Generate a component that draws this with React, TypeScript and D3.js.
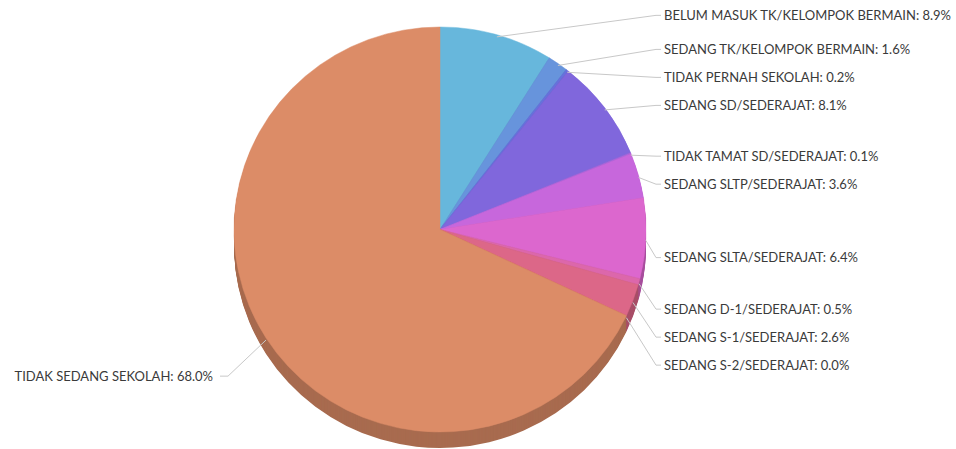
import React from "react";
import * as d3 from "d3";

const categories = [
  "BELUM MASUK TK/KELOMPOK BERMAIN",
  "SEDANG TK/KELOMPOK BERMAIN",
  "TIDAK PERNAH SEKOLAH",
  "SEDANG SD/SEDERAJAT",
  "TIDAK TAMAT SD/SEDERAJAT",
  "SEDANG SLTP/SEDERAJAT",
  "SEDANG SLTA/SEDERAJAT",
  "SEDANG D-1/SEDERAJAT",
  "SEDANG S-1/SEDERAJAT",
  "SEDANG S-2/SEDERAJAT",
  "TIDAK SEDANG SEKOLAH",
];
const values = [8.9, 1.6, 0.2, 8.1, 0.1, 3.6, 6.4, 0.5, 2.6, 0.0, 68.0];
const colors = [
  "#67b7dc", "#6794dc", "#6771dc", "#8067dc", "#a367dc", "#c767dc",
  "#dc67ce", "#dc67ab", "#dc6788", "#dc6967", "#dc8c67",
];

const W = 956, H = 449;
const cx = 440, cy = 229.5, rx = 206, ry = 202.5, depth = 16;
const labelCy = cy + 17.5, labelR = 241, labelGap = 28;
const rightX = 664, leftX = 213;

export default function App() {
  const pie = d3.pie<number>().sort(null).value((d) => d)(values);
  const arc = d3.arc<d3.PieArcDatum<number>>().innerRadius(0).outerRadius(ry);
  const sx = rx / ry;

  type L = { i: number; mid: number; y: number; right: boolean; ex: number; ey: number };
  const labels: L[] = pie.map((p, i) => {
    const mid = (p.startAngle + p.endAngle) / 2;
    return {
      i,
      mid,
      y: labelCy - labelR * Math.cos(mid),
      right: Math.sin(mid) >= 0,
      ex: cx + rx * Math.sin(mid),
      ey: cy - ry * Math.cos(mid) + 2,
    };
  });
  [true, false].forEach((side) => {
    const g = labels.filter((l) => l.right === side).sort((a, b) => a.y - b.y);
    for (let k = 1; k < g.length; k++) {
      if (g[k].y < g[k - 1].y + labelGap) g[k].y = g[k - 1].y + labelGap;
    }
  });

  const layers = d3.range(depth, 0, -1);

  return (
    <svg width={W} height={H} style={{ position: "absolute", left: 0, top: 0 }}>
      <g transform={`translate(${cx},${cy})`}>
        {layers.map((d) => (
          <g key={d} transform={`translate(0,${d}) scale(${sx},1)`}>
            {pie.map((p, i) => (
              <path
                key={i}
                d={arc(p) || ""}
                fill={d3.color(colors[i])!.darker(0.75).formatHex()}
              />
            ))}
          </g>
        ))}
        <g transform={`scale(${sx},1)`}>
          {pie.map((p, i) => (
            <path
              key={i}
              d={arc(p) || ""}
              fill={colors[i]}
              stroke={colors[i]}
              strokeWidth={0.5}
            />
          ))}
        </g>
      </g>
      {labels.map((l) => {
        const tx = l.right ? rightX : leftX;
        const x1 = l.right ? tx - 8 : tx + 15;
        const x2 = l.right ? tx - 3 : tx + 7;
        return (
          <g key={l.i}>
            <polyline
              points={`${l.ex},${l.ey} ${x1},${l.y} ${x2},${l.y}`}
              fill="none"
              stroke="#c8c8c8"
              strokeWidth={1}
            />
            <text
              x={tx}
              y={l.y}
              dy="0.35em"
              textAnchor={l.right ? "start" : "end"}
              fontFamily="Lato, sans-serif"
              fontSize={13}
              fill="#3a3a3a"
            >
              {`${categories[l.i]}: ${values[l.i].toFixed(1)}%`}
            </text>
          </g>
        );
      })}
    </svg>
  );
}
